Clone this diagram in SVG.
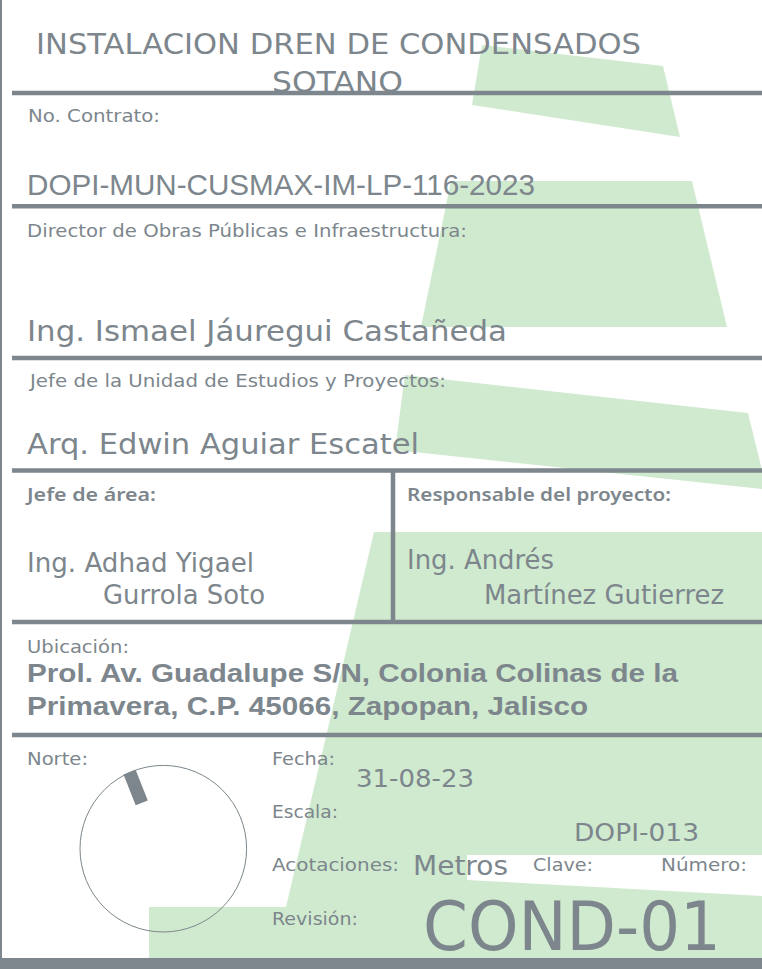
<svg xmlns="http://www.w3.org/2000/svg" width="762" height="969" viewBox="0 0 762 969">
  <style>
    .bg { fill: #d0eacf; }
    .rule { stroke: #7c868c; stroke-width: 4.5; fill: none; }
    .t { font-family: 'DejaVu Sans', 'Noto Sans', sans-serif; fill: #7c868c; }
    .lbl { font-size: 17.5px; }
    .semi { font-family: 'Noto Sans', 'DejaVu Sans', sans-serif; font-weight: 600; font-size: 18px; }
    .big { font-size: 28px; }
    .mid { font-size: 26px; }
    .val { font-size: 24px; }
    .arial { font-family: 'Liberation Sans', Arial, sans-serif; fill: #7c868c; }
  </style>
  <rect x="0" y="0" width="762" height="969" fill="#ffffff"/>

  <g id="background-shapes">
    <polygon class="bg" points="482,45 663,66 680,137 472,105"/>
    <polygon class="bg" points="451,181 692,181 727,327 421,327"/>
    <polygon class="bg" points="405,375 748,413 762,470 762,489 395,450"/>
    <polygon class="bg" points="374,532 762,532 762,958 149,958 149,907 286,907"/>
    <polygon fill="#ffffff" points="467,855 762,855 762,896 467,880"/>
  </g>

  <g id="frame">
    <line x1="1" y1="0" x2="1" y2="969" stroke="#7c868c" stroke-width="2"/>
    <line class="rule" x1="12" y1="93" x2="762" y2="93"/>
    <line class="rule" x1="12" y1="206.3" x2="762" y2="206.3"/>
    <line class="rule" x1="12" y1="358" x2="762" y2="358"/>
    <line class="rule" x1="12" y1="470.5" x2="762" y2="470.5"/>
    <line class="rule" x1="393" y1="470" x2="393" y2="622"/>
    <line class="rule" x1="12" y1="622" x2="762" y2="622"/>
    <line class="rule" x1="12" y1="735" x2="762" y2="735"/>
    <rect x="0" y="958" width="762" height="11" fill="#7c868c"/>
  </g>

  <g id="title">
    <text class="t" x="36" y="54" font-size="29" textLength="605" lengthAdjust="spacingAndGlyphs">INSTALACION DREN DE CONDENSADOS</text>
    <text class="t" x="272" y="91.5" font-size="29" textLength="131" lengthAdjust="spacingAndGlyphs">SOTANO</text>
  </g>

  <g id="contrato">
    <text class="t lbl" x="28" y="122" textLength="132" lengthAdjust="spacingAndGlyphs">No. Contrato:</text>
    <text class="arial" x="27" y="195" font-size="29" textLength="508" lengthAdjust="spacingAndGlyphs">DOPI-MUN-CUSMAX-IM-LP-116-2023</text>
  </g>

  <g id="director">
    <text class="t lbl" x="27" y="237" textLength="440" lengthAdjust="spacingAndGlyphs">Director de Obras Públicas e Infraestructura:</text>
    <text class="t big" x="27" y="341" textLength="480" lengthAdjust="spacingAndGlyphs">Ing. Ismael Jáuregui Castañeda</text>
  </g>

  <g id="jefe-unidad">
    <text class="t lbl" x="30" y="387" textLength="416" lengthAdjust="spacingAndGlyphs">Jefe de la Unidad de Estudios y Proyectos:</text>
    <text class="t big" x="27" y="453.5" textLength="392" lengthAdjust="spacingAndGlyphs">Arq. Edwin Aguiar Escatel</text>
  </g>

  <g id="jefe-area">
    <text class="t semi" x="27" y="501" textLength="129" lengthAdjust="spacingAndGlyphs">Jefe de área:</text>
    <text class="t mid" x="27" y="572" textLength="227" lengthAdjust="spacingAndGlyphs">Ing. Adhad Yigael</text>
    <text class="t mid" x="103" y="604" textLength="162" lengthAdjust="spacingAndGlyphs">Gurrola Soto</text>
  </g>

  <g id="responsable">
    <text class="t semi" x="407" y="501" textLength="264" lengthAdjust="spacingAndGlyphs">Responsable del proyecto:</text>
    <text class="t mid" x="407" y="569" textLength="147" lengthAdjust="spacingAndGlyphs">Ing. Andrés</text>
    <text class="t mid" x="484" y="604" textLength="240" lengthAdjust="spacingAndGlyphs">Martínez Gutierrez</text>
  </g>

  <g id="ubicacion">
    <text class="t lbl" x="27" y="653" textLength="102" lengthAdjust="spacingAndGlyphs">Ubicación:</text>
    <text class="arial" x="27" y="682" font-size="25" font-weight="bold" textLength="651" lengthAdjust="spacingAndGlyphs">Prol. Av. Guadalupe S/N, Colonia Colinas de la</text>
    <text class="arial" x="27" y="715" font-size="25" font-weight="bold" textLength="561" lengthAdjust="spacingAndGlyphs">Primavera, C.P. 45066, Zapopan, Jalisco</text>
  </g>

  <g id="norte">
    <text class="t lbl" x="27" y="765" textLength="61" lengthAdjust="spacingAndGlyphs">Norte:</text>
    <circle cx="163.3" cy="848.7" r="83.3" fill="none" stroke="#7c868c" stroke-width="1"/>
    <polygon fill="#7c868c" points="123.5,774.5 135.6,769.7 147.8,800.4 135.7,805.2"/>
  </g>

  <g id="datos">
    <text class="t lbl" x="272" y="765" textLength="63" lengthAdjust="spacingAndGlyphs">Fecha:</text>
    <text class="t val" x="356" y="787" textLength="118" lengthAdjust="spacingAndGlyphs">31-08-23</text>
    <text class="t lbl" x="272" y="818" textLength="66" lengthAdjust="spacingAndGlyphs">Escala:</text>
    <text class="t val" x="574" y="841" textLength="125" lengthAdjust="spacingAndGlyphs">DOPI-013</text>
    <text class="t lbl" x="272" y="871" textLength="127" lengthAdjust="spacingAndGlyphs">Acotaciones:</text>
    <text class="t mid" x="413" y="875" textLength="95" lengthAdjust="spacingAndGlyphs">Metros</text>
    <text class="t lbl" x="533" y="871" textLength="60" lengthAdjust="spacingAndGlyphs">Clave:</text>
    <text class="t lbl" x="661" y="871" textLength="86" lengthAdjust="spacingAndGlyphs">Número:</text>
    <text class="t lbl" x="272" y="925" textLength="86" lengthAdjust="spacingAndGlyphs">Revisión:</text>
    <text class="t" x="423" y="950" font-size="68" textLength="298" lengthAdjust="spacingAndGlyphs">COND-01</text>
  </g>
</svg>
